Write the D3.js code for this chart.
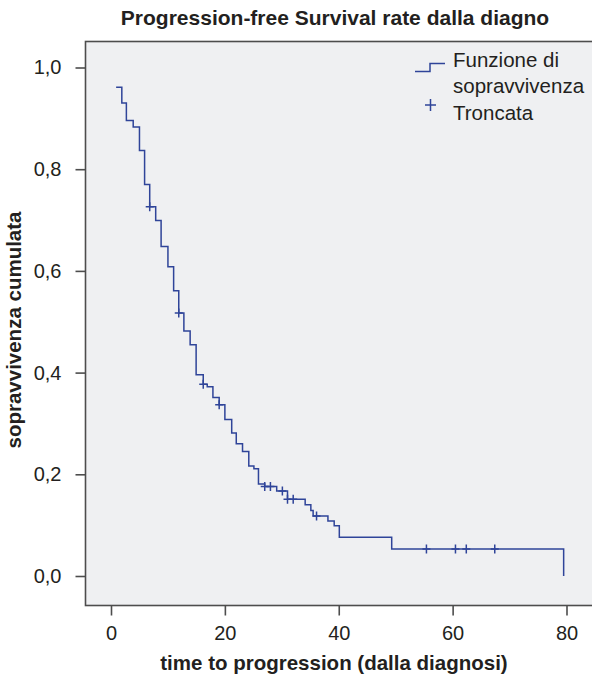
<!DOCTYPE html>
<html>
<head>
<meta charset="utf-8">
<script src="https://cdn.jsdelivr.net/npm/d3@7"></script>
<style>
  body { margin: 0; background: #fff; }
  svg text { font-family: "Liberation Sans", Arial, sans-serif; fill: #231f20; }
</style>
</head>
<body>
<svg width="592" height="683" class="chart"></svg>
<script>
// Kaplan-Meier steps: time where the step starts and survival level from there on
var stepTimes = [0.9, 1.9, 2.7, 3.9, 5.0, 5.9, 6.8, 7.85, 8.8, 10.0, 11.0, 11.9, 12.8, 13.9, 14.95,
  16.2, 16.9, 17.9, 19.0, 20.0, 21.2, 22.0, 23.1, 24.2, 25.1, 25.9, 27.0, 29.1, 31.0, 34.1, 35.1,
  35.5, 38.1, 39.2, 40.1, 49.3, 79.5];
var stepSurv = [0.961, 0.930, 0.896, 0.883, 0.837, 0.770, 0.726, 0.699, 0.648, 0.608, 0.561, 0.517,
  0.482, 0.455, 0.396, 0.377, 0.372, 0.351, 0.337, 0.308, 0.281, 0.260, 0.245, 0.2165, 0.211, 0.181,
  0.176, 0.167, 0.151, 0.140, 0.129, 0.118, 0.108, 0.099, 0.076, 0.053, 0.0];
// censored observations
var censorTimes = [6.8, 11.9, 16.2, 19.0, 27.0, 28.0, 30.1, 31.0, 32.0, 36.1, 55.4, 60.5, 62.4, 67.4];

var xTicks = [0, 20, 40, 60, 80];
var yTicks = [0, 0.2, 0.4, 0.6, 0.8, 1.0];

var svg = d3.select(".chart"),
  frame = {left: 85.5, top: 41.5, bottom: 605.5, right: 600},
  lineColor = "#2f4499";

var x = d3.scaleLinear().domain([0, 80]).range([111, 566.5]);
var y = d3.scaleLinear().domain([0, 1]).range([576, 67.5]);

svg.append("rect")
  .attr("x", frame.left).attr("y", frame.top)
  .attr("width", frame.right - frame.left).attr("height", frame.bottom - frame.top)
  .attr("fill", "#eff0f2")
  .attr("stroke", "#4d4d4d").attr("stroke-width", 1.6);

// axes
var xAxis = svg.append("g")
  .attr("transform", "translate(0," + frame.bottom + ")")
  .call(d3.axisBottom(x).tickValues(xTicks).tickSize(10).tickPadding(10).tickFormat(d3.format("d")));
var yAxis = svg.append("g")
  .attr("transform", "translate(" + frame.left + ",0)")
  .call(d3.axisLeft(y).tickValues(yTicks).tickSize(10).tickPadding(14)
    .tickFormat(function(d) { return d.toFixed(1).replace(".", ","); }));
[xAxis, yAxis].forEach(function(a) {
  a.select(".domain").remove();
  a.selectAll(".tick line").attr("stroke", "#4d4d4d").attr("stroke-width", 1.6);
  a.selectAll(".tick text").attr("fill", "#231f20").style("font-size", "20px")
    .style("font-family", '"Liberation Sans", Arial, sans-serif');
});

// step curve
var pts = stepTimes.map(function(t, i) { return [t, stepSurv[i]]; });
var line = d3.line()
  .x(function(d) { return x(d[0]); })
  .y(function(d) { return y(d[1]); })
  .curve(d3.curveStepAfter);
svg.append("path")
  .datum(pts)
  .attr("fill", "none")
  .attr("stroke", lineColor)
  .attr("stroke-width", 1.5)
  .attr("d", line);

// survival at a censor time = level of the last step at or before it
var bis = d3.bisector(function(d) { return d; }).right;
function survAt(t) {
  var i = bis(stepTimes, t) - 1;
  return i < 0 ? 1 : stepSurv[i];
}
svg.selectAll(".censor")
  .data(censorTimes)
  .enter().append("path")
  .attr("class", "censor")
  .attr("fill", "none")
  .attr("stroke", lineColor)
  .attr("stroke-width", 1.5)
  .attr("d", function(t) {
    var cx = x(t), cy = y(survAt(t));
    return "M" + (cx - 4) + "," + cy + "H" + (cx + 4) + "M" + cx + "," + (cy - 4.5) + "V" + (cy + 4.5);
  });

// legend
var lg = svg.append("g");
lg.append("path")
  .attr("d", "M415,71.5H430V63.5H445")
  .attr("fill", "none").attr("stroke", lineColor).attr("stroke-width", 1.5);
lg.append("path")
  .attr("d", "M425,105H436M430.5,99V111")
  .attr("fill", "none").attr("stroke", lineColor).attr("stroke-width", 1.5);
[["Funzione di", 67], ["sopravvivenza", 93], ["Troncata", 120]].forEach(function(r) {
  lg.append("text").attr("x", 453).attr("y", r[1]).style("font-size", "20.5px").text(r[0]);
});

// titles
svg.append("text")
  .attr("x", 335).attr("y", 25)
  .attr("text-anchor", "middle")
  .style("font-size", "21px").style("font-weight", "bold")
  .text("Progression-free Survival rate dalla diagno");
svg.append("text")
  .attr("x", 334).attr("y", 670)
  .attr("text-anchor", "middle")
  .style("font-size", "20.5px").style("font-weight", "bold")
  .text("time to progression (dalla diagnosi)");
svg.append("text")
  .attr("transform", "translate(21,330) rotate(-90)")
  .attr("text-anchor", "middle")
  .style("font-size", "20.5px").style("font-weight", "bold")
  .text("sopravvivenza cumulata");
</script>
</body>
</html>
